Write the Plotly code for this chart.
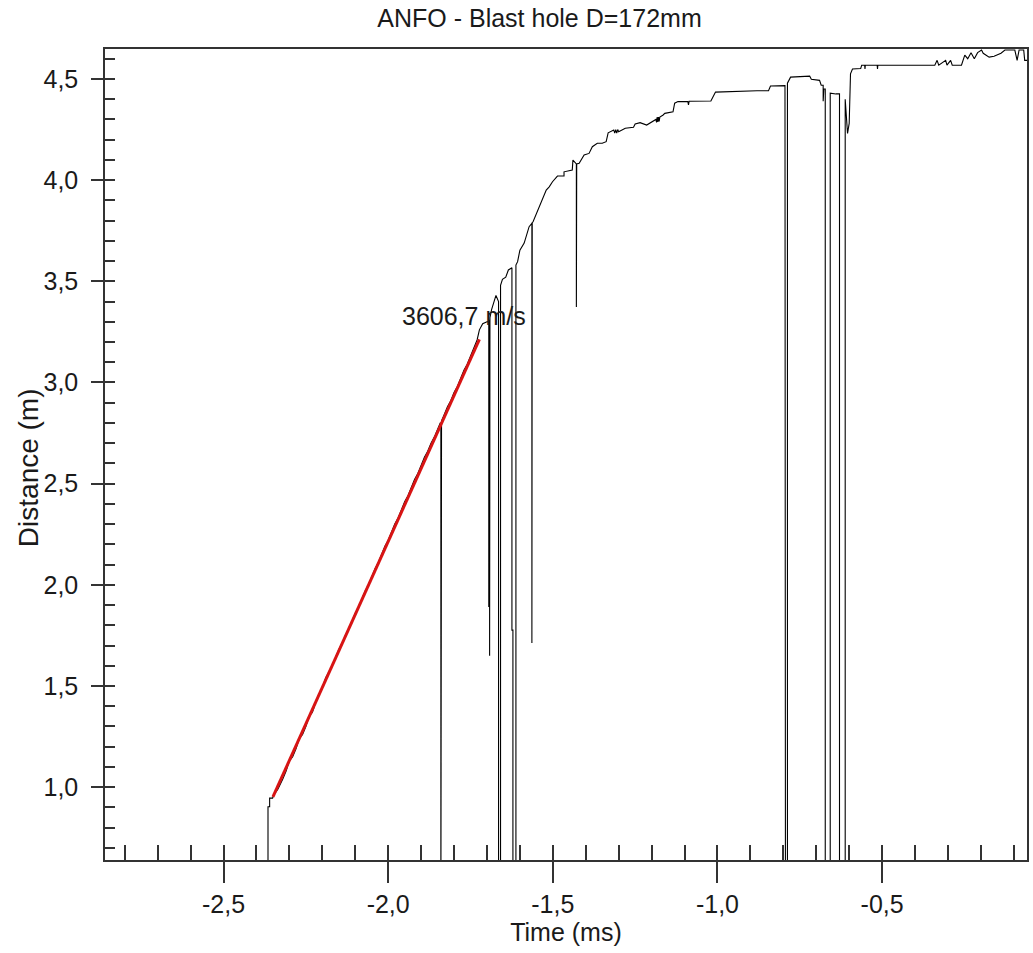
import plotly.graph_objects as go

# ---- data ----
time_ms = [
    -2.860, -2.365, -2.365, -2.360, -2.360, -2.351, -2.348,
    -2.335, -2.320, -2.310, -2.300, -2.290, -2.280, -2.270, -2.260, -2.250, -2.240,
    -2.230, -2.220, -2.210, -2.200, -2.190, -2.180, -2.170, -2.160, -2.150, -2.140,
    -2.130, -2.120, -2.110, -2.100, -2.090, -2.080, -2.070, -2.060, -2.050, -2.040,
    -2.030, -2.020, -2.010, -2.000, -1.990, -1.980, -1.970, -1.960, -1.950, -1.940,
    -1.930, -1.920, -1.910, -1.900, -1.890, -1.880, -1.870, -1.860, -1.850,
    -1.842, -1.840, -1.840, -1.838, -1.838,
    -1.830, -1.820, -1.810, -1.800, -1.790, -1.780, -1.770, -1.760, -1.750, -1.740, -1.730,
    -1.723, -1.713, -1.700,
    -1.6945, -1.6945, -1.6940, -1.6920, -1.6920, -1.6910,
    -1.686, -1.676, -1.6727,
    -1.6648, -1.6648, -1.6588, -1.6588,
    -1.653, -1.643, -1.635, -1.6273,
    -1.6242, -1.6242, -1.6212, -1.6212, -1.6121, -1.6121,
    -1.607, -1.600, -1.587, -1.572, -1.5648,
    -1.5636, -1.5636, -1.5626,
    -1.560, -1.547, -1.532, -1.520, -1.511, -1.501, -1.486, -1.466, -1.466, -1.441, -1.439,
    -1.4285, -1.4285, -1.4275,
    -1.420, -1.405, -1.390, -1.380, -1.365, -1.350, -1.338, -1.332, -1.315,
    -1.312, -1.309, -1.306, -1.303, -1.300,
    -1.280, -1.255, -1.250, -1.235, -1.215, -1.200,
    -1.187, -1.185, -1.183, -1.181, -1.179, -1.177, -1.175,
    -1.165, -1.160, -1.135,
    -1.130, -1.120, -1.090, -1.088, -1.086, -1.020, -1.006, -0.880, -0.845, -0.839, -0.805, -0.795,
    -0.7935, -0.7875, -0.7875,
    -0.778, -0.720, -0.715, -0.690, -0.685, -0.679, -0.679, -0.677,
    -0.6727, -0.6727, -0.6576, -0.6576,
    -0.640,
    -0.6294, -0.6294, -0.6121, -0.6121,
    -0.605, -0.600, -0.596, -0.590, -0.565, -0.562,
    -0.553, -0.552, -0.551, -0.515, -0.514, -0.513,
    -0.340, -0.333, -0.328, -0.307, -0.303, -0.292, -0.287,
    -0.259, -0.249, -0.240, -0.230, -0.220, -0.210, -0.198, -0.193, -0.185, -0.175,
    -0.160, -0.139, -0.127, -0.097, -0.090, -0.084, -0.070, -0.067, -0.055,
]
distance_m = [
    0.30, 0.30, 0.903, 0.903, 0.946, 0.946, 0.96,
    0.99, 1.04, 1.08, 1.13, 1.15, 1.19, 1.24, 1.26, 1.30, 1.35,
    1.37, 1.42, 1.46, 1.49, 1.54, 1.57, 1.60, 1.64, 1.68, 1.71,
    1.75, 1.78, 1.82, 1.86, 1.89, 1.93, 1.97, 2.00, 2.04, 2.08,
    2.11, 2.15, 2.19, 2.22, 2.26, 2.30, 2.33, 2.37, 2.41, 2.44,
    2.48, 2.52, 2.55, 2.59, 2.63, 2.66, 2.70, 2.73, 2.77,
    2.80, 2.80, 0.30, 0.30, 2.81,
    2.84, 2.88, 2.91, 2.95, 2.98, 3.02, 3.06, 3.09, 3.13, 3.17, 3.21,
    3.26, 3.29, 3.30,
    3.30, 1.89, 3.30, 3.31, 1.65, 3.32,
    3.36, 3.42, 3.43,
    3.40, 0.30, 0.30, 3.48,
    3.51, 3.52, 3.556, 3.567,
    3.567, 1.776, 1.776, 0.30, 0.30, 3.58,
    3.597, 3.654, 3.689, 3.770, 3.786,
    3.786, 1.713, 3.79,
    3.794, 3.844, 3.902, 3.951, 3.967, 3.992, 4.020, 4.020, 4.041, 4.050, 4.099,
    4.08, 3.373, 4.08,
    4.083, 4.124, 4.132, 4.165, 4.182, 4.182, 4.190, 4.234, 4.248,
    4.232, 4.250, 4.232, 4.250, 4.239,
    4.256, 4.261, 4.277, 4.284, 4.272, 4.289,
    4.300, 4.285, 4.312, 4.288, 4.312, 4.290, 4.312,
    4.322, 4.330, 4.338,
    4.380, 4.388, 4.388, 4.372, 4.390, 4.391, 4.435, 4.442, 4.442, 4.465, 4.467, 4.467,
    0.30, 0.30, 4.479,
    4.509, 4.514, 4.498, 4.493, 4.469, 4.469, 4.39, 4.45,
    4.45, 0.30, 0.30, 4.43,
    4.426,
    4.426, 0.30, 0.30, 4.40,
    4.231, 4.28, 4.525, 4.549, 4.552, 4.568,
    4.568, 4.55, 4.568, 4.568, 4.55, 4.568,
    4.568, 4.592, 4.568, 4.592, 4.568, 4.592, 4.568,
    4.568, 4.618, 4.600, 4.630, 4.600, 4.630, 4.643, 4.627, 4.620, 4.608,
    4.612, 4.627, 4.643, 4.643, 4.592, 4.643, 4.643, 4.592, 4.592,
]

fit_time_ms = [-2.350, -1.723]
fit_distance_m = [0.952, 3.213]

velocity_label = "3606,7 m/s"
velocity_label_time = -1.769
velocity_label_distance = 3.328

x_tick_vals = [-2.5, -2.0, -1.5, -1.0, -0.5]
x_tick_text = ["-2,5", "-2,0", "-1,5", "-1,0", "-0,5"]
y_tick_vals = [1.0, 1.5, 2.0, 2.5, 3.0, 3.5, 4.0, 4.5]
y_tick_text = ["1,0", "1,5", "2,0", "2,5", "3,0", "3,5", "4,0", "4,5"]

x_range = [-2.86, -0.06]
y_range = [0.64, 4.648]

FONT = "Arial, 'Liberation Sans', sans-serif"
AXIS_COLOR = "#333333"
TEXT_COLOR = "#1a1a1a"

fig = go.Figure()

# empty trace to anchor the overlay axes used for the inner tick marks
fig.add_trace(go.Scatter(x=[], y=[], xaxis="x2", yaxis="y2", showlegend=False,
                         hoverinfo="skip"))

fig.add_trace(go.Scatter(
    x=time_ms, y=distance_m, mode="lines",
    line=dict(color="#000000", width=1.1),
    showlegend=False,
))

fig.add_trace(go.Scatter(
    x=fit_time_ms, y=fit_distance_m, mode="lines",
    line=dict(color="#d81414", width=3),
    showlegend=False,
))

fig.add_annotation(
    x=velocity_label_time, y=velocity_label_distance, xref="x", yref="y",
    text=velocity_label, showarrow=False,
    xanchor="center", yanchor="middle",
    font=dict(family=FONT, size=25, color=TEXT_COLOR),
)

# y-axis title placed as a rotated annotation so it can sit close to the labels
fig.add_annotation(
    x=-77 / 924, y=(860 - 468) / 811, xref="paper", yref="paper",
    text="Distance (m)", textangle=-90, showarrow=False,
    xanchor="center", yanchor="middle",
    font=dict(family=FONT, size=28, color=TEXT_COLOR),
)

fig.update_layout(
    width=1033, height=953,
    margin=dict(l=105, r=4, t=49, b=93),
    paper_bgcolor="white", plot_bgcolor="white",
    showlegend=False,
    font=dict(family=FONT, size=25, color=TEXT_COLOR),
    title=dict(
        text="ANFO - Blast hole D=172mm",
        x=0.4713, xref="paper", xanchor="center",
        y=1 - 18 / 953, yref="container", yanchor="middle",
        font=dict(family=FONT, size=25, color=TEXT_COLOR),
    ),
    xaxis=dict(
        range=x_range, showgrid=False, zeroline=False,
        showline=True, linecolor=AXIS_COLOR, linewidth=1.5, mirror=True,
        ticks="outside", ticklen=21, tickwidth=1.5, tickcolor=AXIS_COLOR,
        tickvals=x_tick_vals, ticktext=x_tick_text,
        tickfont=dict(family=FONT, size=25, color=TEXT_COLOR),
        title=dict(text="Time (ms)", standoff=6,
                   font=dict(family=FONT, size=25, color=TEXT_COLOR)),
    ),
    xaxis2=dict(
        range=x_range, overlaying="x", anchor="y", side="bottom",
        showgrid=False, zeroline=False, showline=False,
        ticks="inside", ticklen=15, tickwidth=1.5, tickcolor=AXIS_COLOR,
        tick0=0, dtick=0.1, showticklabels=False,
    ),
    yaxis=dict(
        range=y_range, showgrid=False, zeroline=False,
        showline=True, linecolor=AXIS_COLOR, linewidth=1.5, mirror=True,
        ticks="outside", ticklen=12, tickwidth=1.5, tickcolor=AXIS_COLOR,
        tickvals=y_tick_vals, ticktext=y_tick_text,
        ticklabelposition="outside", ticklabelstandoff=8,
        tickfont=dict(family=FONT, size=25, color=TEXT_COLOR),
    ),
    yaxis2=dict(
        range=y_range, overlaying="y", anchor="x", side="left",
        showgrid=False, zeroline=False, showline=False,
        ticks="inside", ticklen=10, tickwidth=1.5, tickcolor=AXIS_COLOR,
        tick0=0, dtick=0.1, showticklabels=False,
    ),
)

fig.write_html(
    "out.html",
    config={"displayModeBar": False},
    post_script="document.body.style.margin='0';document.body.style.overflow='hidden';",
)
